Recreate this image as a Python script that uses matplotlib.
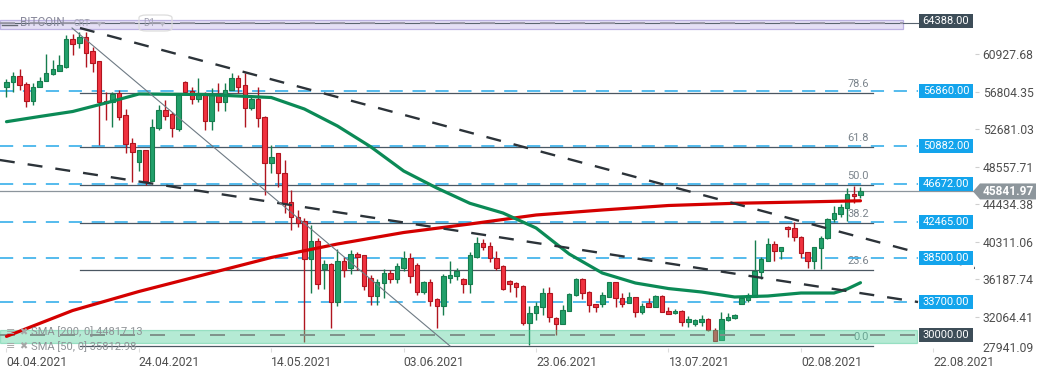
import matplotlib
matplotlib.use("Agg")
import matplotlib.pyplot as plt
import matplotlib.dates as mdates
import matplotlib.transforms as mtransforms
from matplotlib.patches import Rectangle, Polygon, FancyBboxPatch
import numpy as np
import pandas as pd

plt.rcParams["font.family"] = ["Roboto", "DejaVu Sans"]
plt.rcParams["lines.scale_dashes"] = False

# daily candles, BITCOIN D1, from 04.04.2021
start_date = "2021-04-04"
opens = [57294, 57918, 58578, 57624, 55828, 57294, 58028, 58724, 59128, 59568,
         62574, 62134, 62794, 61328, 60191, 55828, 55644, 56634, 54251, 51134,
         49117, 50401, 47027, 52784, 54801, 54361, 52674, 57918, 56928, 55974,
         56451, 53628, 56451, 55644, 57001, 58284, 57551, 54984, 55974, 53994,
         48934, 50107, 47907, 44717, 43067, 42627, 38374, 40391, 37274, 37824,
         33644, 38191, 37457, 38924, 38851, 36284, 34377, 35734, 36834, 36174,
         37457, 38558, 37751, 34744, 35844, 34010, 33277, 36357, 36541, 36174,
         35624, 38668, 40134, 39841, 38558, 37641, 35991, 35734, 35441, 31334,
         32434, 33094, 34634, 31884, 31261, 32691, 34451, 36174, 34817, 33460,
         33460, 34267, 35844, 34084, 33534, 34194, 32544, 33607, 33167, 34377,
         32727, 32434, 32727, 31444, 31224, 31517, 31774, 30600, 29500, 31700,
         31884, 33460, 33900, 34267, 36944, 38191, 40024, 39327, 41894, 41784,
         40867, 39144, 38191, 39584, 40684, 42811, 43324, 43984, 45561, 45451]
highs = [58174, 59018, 59274, 57918, 57734, 58468, 60961, 60301, 60851, 63088,
         63161, 63418, 63418, 61768, 60191, 56818, 56818, 57001, 54911, 51684,
         50401, 50401, 53774, 55351, 55901, 54618, 56634, 58028, 57368, 58284,
         56818, 57184, 57734, 57734, 58834, 58651, 58834, 56451, 57294, 54141,
         50951, 50107, 49301, 46000, 43800, 42884, 42151, 40684, 38301, 37934,
         39474, 38668, 39401, 39217, 38851, 36651, 36211, 37274, 37201, 37934,
         39291, 39034, 38000, 36000, 36211, 34157, 36761, 38191, 37457, 36300,
         39217, 40867, 40574, 40317, 39291, 37800, 36100, 35917, 35551, 33240,
         33717, 35184, 35294, 32000, 33350, 34634, 36300, 36300, 34850, 33500,
         34817, 35900, 35900, 34634, 34817, 34267, 33534, 34084, 34450, 34450,
         33167, 32874, 32800, 32140, 31774, 32251, 31884, 30857, 32617, 32434,
         32361, 34267, 34634, 40500, 38594, 40684, 40391, 39700, 42040, 42517,
         40900, 39200, 39700, 40940, 42884, 44241, 44461, 46184, 46441, 46294]
lows = [56267, 56818, 57001, 55168, 55351, 57294, 58028, 58651, 59128, 59384,
        60851, 61584, 59494, 59018, 50951, 53701, 52894, 53701, 50034, 46917,
        48127, 46551, 47027, 52601, 53701, 51867, 52528, 56634, 55461, 55717,
        52601, 52601, 54728, 54728, 57001, 56708, 52968, 54801, 52968, 45451,
        47834, 46367, 43434, 41600, 41967, 29317, 34634, 35074, 35074, 30857,
        33240, 36394, 36761, 37201, 35001, 33350, 33350, 34084, 35807, 35807,
        37091, 35807, 34500, 34600, 33240, 30857, 32251, 35734, 36101, 34634,
        34634, 38558, 39401, 38117, 37201, 35001, 34817, 34267, 31151, 28951,
        31701, 32251, 31517, 30051, 31261, 32691, 34340, 33974, 32617, 32617,
        33167, 34194, 33167, 33167, 33534, 31994, 32361, 33167, 33167, 32544,
        32361, 32361, 31077, 30967, 31077, 31077, 30527, 29390, 29500, 31627,
        31810, 33460, 33717, 34267, 36211, 38191, 38227, 38374, 40867, 40427,
        38484, 37457, 37274, 37274, 40611, 42517, 42994, 42627, 44534, 45084]
closes = [57844, 58578, 57551, 55828, 57368, 58028, 58834, 59274, 59714, 62574,
          62061, 62794, 61034, 60008, 55717, 55534, 56524, 54067, 51024, 50217,
          50401, 47027, 52894, 54801, 54178, 52784, 56451, 56744, 55974, 56451,
          53628, 56451, 55644, 57001, 58284, 57368, 54984, 55974, 53884, 48934,
          49667, 47834, 44534, 43067, 42334, 38374, 40391, 35624, 37824, 33644,
          38191, 37201, 38924, 38668, 35477, 34377, 35844, 36834, 36174, 37641,
          38558, 36541, 34744, 35844, 33827, 33240, 36541, 36614, 37127, 35624,
          38851, 40134, 39694, 38484, 37457, 35074, 35661, 35294, 31334, 32434,
          33240, 34634, 32067, 31261, 32801, 34524, 36174, 34634, 33350, 33094,
          34450, 35844, 34084, 33460, 34194, 32544, 33277, 33167, 34377, 32617,
          32361, 32727, 31444, 31774, 31700, 31774, 30600, 29390, 31774, 31994,
          32251, 34084, 34450, 37091, 38411, 40024, 39327, 39694, 41674, 40794,
          39034, 38191, 39694, 40757, 42774, 43507, 44094, 45561, 45341, 45842]

# moving averages (day offset from start, price)
sma200_days = [0, 10, 20, 30, 40, 50, 60, 70, 80, 90, 100, 110, 120, 129]
sma200_vals = [29899, 32746, 34836, 36706, 38576, 40061, 41326, 42261, 43251,
               43801, 44296, 44538, 44681, 44815]
sma50_days = [0, 5, 10, 15, 20, 25, 30, 35, 40, 45, 50, 55, 60, 65, 70, 75, 80,
              85, 90, 95, 100, 105, 110, 115, 120, 125, 127, 129]
sma50_vals = [53514, 54085, 54636, 55571, 56561, 56528, 56506, 56341, 56175,
              54910, 53040, 50764, 48090, 46220, 44537, 43470, 41820, 38960,
              36870, 35770, 35160, 34780, 34230, 34340, 34670, 34670, 35110,
              35803]

# drawn objects
trend_upper = ([11.1, 146.3], [63820, 37420])
trend_lower = ([-1.0, 137.7], [49300, 33680])
trend_thin = ([9.9, 67.0], [63820, 28840])
fib_labels = ["100.0", "78.6", "61.8", "50.0", "38.2", "23.6", "0.0"]
fib_prices = [64388, 56704, 50698, 46518, 42338, 37201, 28840]
blue_levels = [56860, 50882, 46672, 42465, 38500, 33700]
dark_levels = [64388, 30000]
top_zone = (63710, 64700)
bottom_zone = (29204, 30600)
last_price = 45841.97
ytick_vals = [60927.68, 56804.35, 52681.03, 48557.71, 44434.38, 40311.06,
              36187.74, 32064.41]
ytick_bottom = 27941.09
sma200_text = "SMA [200, 0] 44817.13"
sma50_text = "SMA [50, 0] 35812.98"

W, H = 1041, 379
AX_W, AX_H, AX_B = 975, 348, 31
fig = plt.figure(figsize=(W / 100, H / 100), dpi=100)
ax = fig.add_axes([0, AX_B / H, AX_W / W, AX_H / H])

d0 = mdates.date2num(pd.Timestamp(start_date))
dates = pd.date_range(start_date, periods=len(opens))
x = mdates.date2num(dates)
ymin, ymax = 28620.7, 66900.7
ax.set_ylim(ymin, ymax)
ax.set_xlim(d0 - 0.98, d0 + 146.3)
ppx = (ymax - ymin) / AX_H  # price per pixel
xs = AX_W  # axes width in px, for fractions

yax = ax.get_yaxis_transform()
figy = mtransforms.blended_transform_factory(fig.transFigure, ax.transData)

# candles
o, h, l, c = map(np.array, (opens, highs, lows, closes))
up = c >= o
body_lo = np.minimum(o, c)
body_h = np.maximum(np.abs(c - o), ppx * 1.0)
for mask, face, edge in [(up, "#22a06b", "#167d4e"), (~up, "#f0323f", "#b0151f")]:
    ax.vlines(x[mask], l[mask], h[mask], color=edge, lw=1.0, zorder=3)
    ax.bar(x[mask], body_h[mask], bottom=body_lo[mask], width=0.68,
           color=face, edgecolor=edge, linewidth=0.8, zorder=3.2)

# horizontal levels
for p in blue_levels:
    ax.axhline(p, 0, 918 / xs, color="#26a8e8", lw=1.1,
               ls=(0, (9.5, 7.0)), zorder=1.6)
for lab, p in zip(fib_labels, fib_prices):
    ax.axhline(p, 80 / xs, 873 / xs, color="#4b5762", lw=0.9, zorder=1.5)
    off = -5 if lab == "100.0" else 3
    ax.annotate(lab, xy=(869 / xs, p), xycoords=yax, xytext=(0, off),
                textcoords="offset points", ha="right", va="bottom",
                fontsize=7.9, color="#7b848c", zorder=1.5)
ax.axhline(last_price, 0, 1, color="#8c959c", lw=0.9, zorder=1.5)
ax.axhline(dark_levels[0], 0, 918 / xs, color="#5a6570", lw=0.8, zorder=2.6)

# zones
ax.add_patch(Rectangle((0, top_zone[0]), 903 / xs, top_zone[1] - top_zone[0],
                       transform=yax, facecolor="#e5dff5", edgecolor="#bdb2e2",
                       lw=0.9, zorder=2))
ax.add_patch(Rectangle((0, bottom_zone[0]), 917 / xs, bottom_zone[1] - bottom_zone[0],
                       transform=yax, facecolor="#4fcf9a", alpha=0.42,
                       edgecolor="#3cc48c", lw=0.9, zorder=4))
ax.axhline(dark_levels[0], 0, 903 / xs, color="#9c9aa8", lw=1.3,
           ls=(0, (10.8, 10.8)), zorder=2.7)
ax.axhline(dark_levels[1], 0, 917 / xs, color="#7f928b", lw=1.4,
           ls=(0, (10.8, 10.8)), zorder=4.5)

# moving averages
ax.plot(d0 + np.array(sma200_days), sma200_vals, color="#d40000", lw=2.3,
        solid_capstyle="round", zorder=5)
ax.plot(d0 + np.array(sma50_days), sma50_vals, color="#0b8a56", lw=2.3,
        solid_capstyle="round", zorder=5)

# trend lines
for days, prices in (trend_upper, trend_lower):
    ax.plot(d0 + np.array(days), prices, color="#2c3339", lw=1.7,
            ls=(0, (10.8, 9.4)), zorder=6)
ax.plot(d0 + np.array(trend_thin[0]), trend_thin[1], color="#6e7a84", lw=0.8,
        zorder=6)

# price boxes on the right
box_h = 14 * ppx
for p in blue_levels + dark_levels:
    fc = "#13a4ec" if p in blue_levels else "#3d4d58"
    yc = p + (2.2 * ppx if p == dark_levels[0] else 0)
    ax.add_patch(Rectangle((919 / xs, yc - box_h / 2), 54 / xs, box_h,
                           transform=yax, facecolor=fc, edgecolor="none",
                           zorder=7, clip_on=False))
    ax.text(946 / xs, yc, f"{p:.2f}", transform=yax, ha="center", va="center",
            color="white", fontsize=7.9, zorder=8)

# current price tag
tag = [(973 / W, last_price), (980 / W, last_price + 8 * ppx),
       (1036 / W, last_price + 8 * ppx), (1036 / W, last_price - 8 * ppx),
       (980 / W, last_price - 8 * ppx)]
ax.add_patch(Polygon(tag, closed=True, transform=figy, facecolor="#8d969c",
                     edgecolor="none", zorder=9, clip_on=False))
ax.text(1008 / W, last_price, f"{last_price:.2f}", transform=figy,
        ha="center", va="center", color="white", fontsize=8.6,
        fontweight="bold", zorder=10)

# axes styling
for s in ax.spines.values():
    s.set_visible(False)
ax.yaxis.tick_right()
ax.set_yticks(ytick_vals)
ax.set_yticklabels([f"{v:.2f}" for v in ytick_vals])
ax.tick_params(axis="y", length=3, color="#cfcfcf", pad=2.5,
               labelsize=8.7, labelcolor="#4e4e4e")
ax.text(1 + 7 / xs, 0, f"{ytick_bottom:.2f}", transform=ax.transAxes,
        ha="left", va="center", fontsize=8.7, color="#4e4e4e")

xt = dates[::20].append(pd.DatetimeIndex([dates[0] + pd.Timedelta(days=140)]))
ax.set_xticks(mdates.date2num(xt))
ax.set_xticklabels([d.strftime("%d.%m.%Y") for d in xt])
ax.tick_params(axis="x", length=3, color="#dddddd", pad=3,
               labelsize=8.7, labelcolor="#4e4e4e")
for t in ax.get_xticklabels():
    t.set_ha("left")

# header and legend texts
ax.text(20 / xs, 1 - 23 / AX_H, "BITCOIN", transform=ax.transAxes, ha="left",
        va="center", fontsize=8.5, color="#8a8a9c", zorder=8)
ax.plot([2 / xs, 17 / xs], [1 - 25 / AX_H] * 2, transform=ax.transAxes,
        color="#666a74", lw=1.0, zorder=8)
ax.text(74 / xs, 1 - 24 / AX_H, "CRT", transform=ax.transAxes, ha="left",
        va="center", fontsize=6.5, color="#a4a4b4", zorder=8)
ax.text(97 / xs, 1 - 23 / AX_H, "▾", transform=ax.transAxes, ha="left",
        va="center", fontsize=7, color="#b4b4c0", zorder=8)
ax.add_patch(FancyBboxPatch((139 / xs, 1 - 31 / AX_H), 33 / xs, 16 / AX_H,
                            boxstyle="round,pad=0,rounding_size=0.008",
                            transform=ax.transAxes, facecolor="none",
                            edgecolor="#dcdcdc", lw=0.9, zorder=8))
ax.text(143 / xs, 1 - 23 / AX_H, "D1", transform=ax.transAxes, ha="left",
        va="center", fontsize=7, color="#a4a4b4", zorder=8)
ax.text(160 / xs, 1 - 23 / AX_H, "▾", transform=ax.transAxes, ha="left",
        va="center", fontsize=7, color="#b4b4c0", zorder=8)

for ypx, txt in ((332, sma200_text), (346.5, sma50_text)):
    yy = (AX_H - ypx) / AX_H
    ax.text(6 / xs, yy, "≡", transform=ax.transAxes, ha="left", va="center",
            fontsize=8, color="#a6a6a6", zorder=8, clip_on=False)
    ax.text(19 / xs, yy, "✖", transform=ax.transAxes, ha="left", va="center",
            fontsize=7, color="#a6a6a6", zorder=8, clip_on=False)
    ax.text(31 / xs, yy, txt, transform=ax.transAxes, ha="left", va="center",
            fontsize=8, color="#8e9296", zorder=8, clip_on=False)

fig.savefig("out.png", dpi=100)
